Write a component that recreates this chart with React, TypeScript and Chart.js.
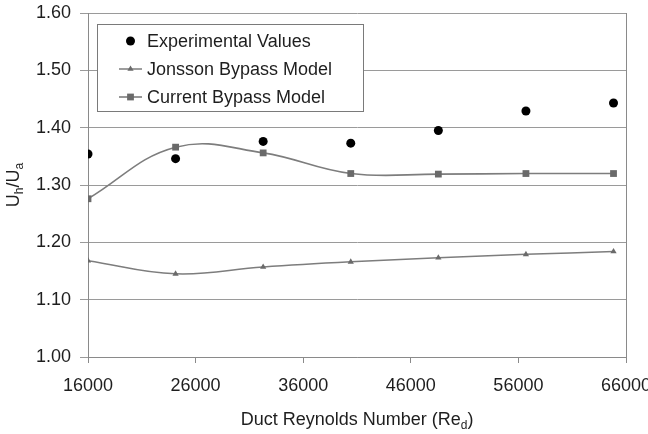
import { useEffect, useRef } from "react";
import { Chart, registerables } from "chart.js";

Chart.register(...registerables);

// ---- data ----
const reynolds = [16000, 24140, 32280, 40420, 48560, 56700, 64840];
const experimentalValues = [1.354, 1.346, 1.376, 1.373, 1.395, 1.429, 1.443];
const jonssonModel = [1.168, 1.145, 1.157, 1.166, 1.173, 1.179, 1.184];
const currentModel = [1.276, 1.366, 1.356, 1.320, 1.319, 1.320, 1.320];
const seriesNames = ["Experimental Values", "Jonsson Bypass Model", "Current Bypass Model"];
const xTickRange = [16000, 66000, 10000];
const yTickRange = [1.0, 1.6, 0.1];

const FONT = "'Liberation Sans', Arial, Helvetica, sans-serif";
const AXIS = "#8a8a8a";
const GRID = "#9a9a9a";
const TEXT = "#1e1e1e";
const LINE = "#7d7d7d";
const MARK = "#6a6a6a";

type Part = { t: string; sub?: boolean };

function partsWidth(ctx: CanvasRenderingContext2D, parts: Part[], size: number) {
  let w = 0;
  for (const p of parts) {
    ctx.font = `${p.sub ? Math.round(size * 0.66) : size}px ${FONT}`;
    w += ctx.measureText(p.t).width;
  }
  return w;
}

function drawParts(ctx: CanvasRenderingContext2D, parts: Part[], x: number, y: number, size: number) {
  let cx = x;
  for (const p of parts) {
    ctx.font = `${p.sub ? Math.round(size * 0.66) : size}px ${FONT}`;
    ctx.fillText(p.t, cx, p.sub ? y + size * 0.22 : y);
    cx += ctx.measureText(p.t).width;
  }
}

function drawMarker(ctx: CanvasRenderingContext2D, style: string, x: number, y: number, r: number, color: string) {
  ctx.fillStyle = color;
  ctx.beginPath();
  if (style === "circle") {
    ctx.arc(x, y, r, 0, Math.PI * 2);
  } else if (style === "triangle") {
    ctx.moveTo(x, y - r);
    ctx.lineTo(x + r * 0.866, y + r * 0.5);
    ctx.lineTo(x - r * 0.866, y + r * 0.5);
    ctx.closePath();
  } else {
    const s = Math.SQRT1_2 * r;
    ctx.rect(x - s, y - s, 2 * s, 2 * s);
  }
  ctx.fill();
}

const decorPlugin = {
  id: "decor",
  afterDraw(chart: any) {
    const ctx: CanvasRenderingContext2D = chart.ctx;
    const { left, right, top, bottom } = chart.chartArea;
    ctx.save();
    // right border of plot
    ctx.strokeStyle = AXIS;
    ctx.lineWidth = 1;
    ctx.beginPath();
    ctx.moveTo(Math.round(right) + 0.5, top);
    ctx.lineTo(Math.round(right) + 0.5, bottom);
    ctx.stroke();

    ctx.fillStyle = TEXT;
    ctx.textBaseline = "alphabetic";
    ctx.textAlign = "left";
    const size = 18;
    // x-axis title
    const xParts: Part[] = [{ t: "Duct Reynolds Number (Re" }, { t: "d", sub: true }, { t: ")" }];
    const xw = partsWidth(ctx, xParts, size);
    drawParts(ctx, xParts, (left + right) / 2 - xw / 2, 425, size);

    // y-axis title (rotated)
    const yParts: Part[] = [{ t: "U" }, { t: "h", sub: true }, { t: "/U" }, { t: "a", sub: true }];
    const yw = partsWidth(ctx, yParts, size);
    ctx.save();
    ctx.translate(19, (top + bottom) / 2);
    ctx.rotate(-Math.PI / 2);
    drawParts(ctx, yParts, -yw / 2, 0, size);
    ctx.restore();

    // legend
    const bx = 97, by = 24, bw = 266, bh = 87;
    ctx.fillStyle = "#ffffff";
    ctx.fillRect(bx, by, bw, bh);
    ctx.strokeStyle = "#7a7a7a";
    ctx.lineWidth = 1;
    ctx.strokeRect(bx + 0.5, by + 0.5, bw, bh);
    const rows = [41, 69, 97];
    chart.data.datasets.forEach((ds: any, i: number) => {
      const cy = rows[i];
      if (ds.showLine !== false) {
        ctx.strokeStyle = ds.borderColor;
        ctx.lineWidth = ds.borderWidth;
        ctx.beginPath();
        ctx.moveTo(119, cy);
        ctx.lineTo(142, cy);
        ctx.stroke();
      }
      drawMarker(ctx, ds.pointStyle, 130.5, cy, ds.pointRadius, ds.pointBackgroundColor);
      ctx.fillStyle = TEXT;
      ctx.font = `${size}px ${FONT}`;
      ctx.textBaseline = "middle";
      ctx.fillText(ds.label, 147, cy + 1);
    });
    ctx.restore();
  },
};

export default function App() {
  const ref = useRef<HTMLCanvasElement | null>(null);
  useEffect(() => {
    if (!ref.current) return;
    const toXY = (ys: number[]) => ys.map((y, i) => ({ x: reynolds[i], y }));
    const chart = new Chart(ref.current, {
      type: "line",
      data: {
        datasets: [
          {
            label: seriesNames[0],
            data: toXY(experimentalValues),
            showLine: false,
            pointStyle: "circle",
            pointRadius: 4.5,
            pointBackgroundColor: "#000000",
            pointBorderColor: "#000000",
            pointBorderWidth: 0,
            borderColor: "#000000",
          },
          {
            label: seriesNames[1],
            data: toXY(jonssonModel),
            borderColor: LINE,
            borderWidth: 1.5,
            tension: 0.4,
            pointStyle: "triangle",
            pointRadius: 3.6,
            pointBackgroundColor: MARK,
            pointBorderColor: MARK,
            pointBorderWidth: 0,
          },
          {
            label: seriesNames[2],
            data: toXY(currentModel),
            borderColor: LINE,
            borderWidth: 1.6,
            tension: 0.4,
            pointStyle: "rect",
            pointRadius: 4.8,
            pointBackgroundColor: MARK,
            pointBorderColor: MARK,
            pointBorderWidth: 0,
          },
        ],
      },
      options: {
        animation: false,
        responsive: false,
        maintainAspectRatio: false,
        layout: { padding: { top: 13, right: 22, left: 0, bottom: 0 } },
        plugins: { legend: { display: false }, tooltip: { enabled: false } },
        scales: {
          x: {
            type: "linear",
            min: xTickRange[0],
            max: xTickRange[1],
            ticks: {
              stepSize: xTickRange[2],
              color: TEXT,
              font: { family: FONT, size: 18 },
              padding: 12,
              maxRotation: 0,
              callback: (v: any) => String(v),
            },
            grid: { drawOnChartArea: false, drawTicks: true, tickLength: 6, color: AXIS },
            border: { color: AXIS, width: 1 },
            afterFit: (s: any) => {
              s.height = 77;
              s.paddingLeft = 0;
              s.paddingRight = 0;
            },
          },
          y: {
            min: yTickRange[0],
            max: yTickRange[1],
            ticks: {
              stepSize: yTickRange[2],
              color: TEXT,
              font: { family: FONT, size: 18 },
              padding: 9,
              callback: (v: any) => Number(v).toFixed(2),
            },
            grid: { color: GRID, tickLength: 8, lineWidth: 1 },
            border: { color: AXIS, width: 1 },
            afterFit: (s: any) => {
              s.width = 88;
              s.paddingTop = 0;
              s.paddingBottom = 0;
            },
          },
        },
      },
      plugins: [decorPlugin],
    });
    return () => chart.destroy();
  }, []);
  return (
    <div style={{ position: "fixed", left: 0, top: 0, width: 648, height: 434, background: "#fff" }}>
      <canvas ref={ref} width={648} height={434} style={{ display: "block" }} />
    </div>
  );
}
